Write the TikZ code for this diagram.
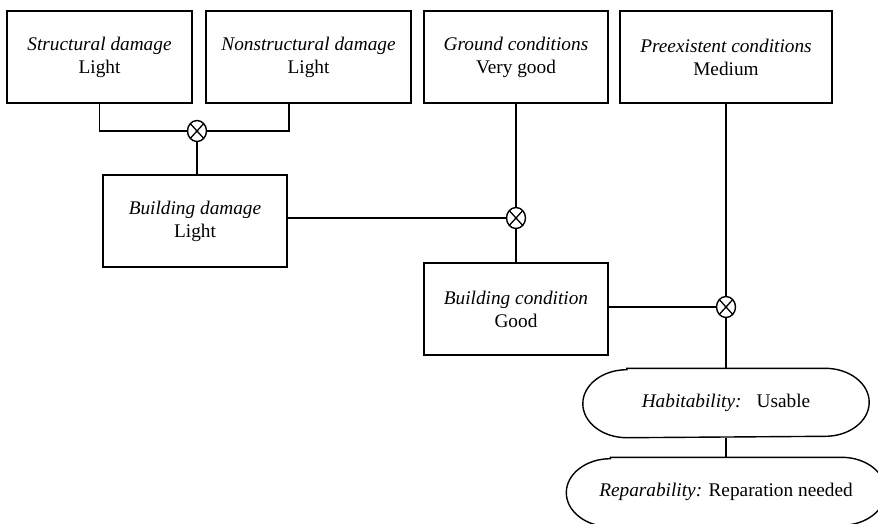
\documentclass[tikz,border=0pt]{standalone}
\usepackage{fontspec}
\setmainfont{Liberation Serif}
\usetikzlibrary{shapes.geometric}
\begin{document}
\begin{tikzpicture}[x=1pt,y=-1pt,
  line width=1.4pt,
  every node/.style={font=\fontsize{19.3}{23}\selectfont},
  factor/.style={draw, align=center, inner sep=0pt, minimum height=92pt},
  outcome/.style={align=center, inner sep=0pt, minimum height=68pt},
  combine/.style={draw, ellipse, fill=white, inner sep=0pt,
                  minimum width=19pt, minimum height=21pt,
                  path picture={
                    \draw[line width=1.3pt]
                      (path picture bounding box.north west) -- (path picture bounding box.south east)
                      (path picture bounding box.north east) -- (path picture bounding box.south west);}},
  link/.style={line width=1.4pt}]
\useasboundingbox (0,0) rectangle (878,523);

% outline of an outcome node: straight top and bottom, half-ellipse ends
\def\outline#1{%
  \draw ([xshift=44pt]#1.north west) -- ([xshift=-44pt]#1.north east)
    arc[start angle=90, end angle=-90, x radius=44pt, y radius=34pt]
    -- ([xshift=44pt]#1.south west)
    arc[start angle=270, end angle=90, x radius=44pt, y radius=34pt]
    -- cycle;}

% input factors
\node[factor, minimum width=185pt] (sd) at (99.5,57) {\textit{Structural damage}\\Light};
\node[factor, minimum width=205pt] (nd) at (308.5,57) {\textit{Nonstructural damage}\\Light};
\node[factor, minimum width=184pt] (gc) at (516,57) {\textit{Ground conditions}\\Very good};
\node[factor, minimum width=212pt] (pc) at (726,57) {\textit{Preexistent conditions}\\Medium};

% intermediate results
\node[factor, minimum width=184pt] (bd) at (195,221) {\textit{Building damage}\\Light};
\node[factor, minimum width=184pt] (bc) at (516,309) {\textit{Building condition}\\Good};

% final assessments
\node[outcome, minimum width=285pt] (hab) at (726,403) {\textit{Habitability:}\hspace{0.45em} Usable};
\node[outcome, minimum width=318pt] (rep) at (726,492) {\textit{Reparability:} Reparation needed};
\outline{hab}
\outline{rep}

% combination operators
\node[combine] (o1) at (197,131) {};
\node[combine] (o2) at (516,218) {};
\node[combine] (o3) at (726,307) {};

% connectors
\draw[link] (sd.south) |- (o1.west);
\draw[link] ([xshift=-19.5pt]nd.south) |- (o1.east);
\draw[link] (o1.south) -- (o1.south |- bd.north);
\draw[link] (o2.west -| bd.east) -- (o2.west);
\draw[link] (gc.south) -- (o2.north);
\draw[link] (o2.south) -- (o2.south |- bc.north);
\draw[link] (o3.west -| bc.east) -- (o3.west);
\draw[link] (pc.south) -- (o3.north);
\draw[link] (o3.south) -- (o3.south |- hab.north);
\draw[link] (hab.south) -- (hab.south |- rep.north);
\end{tikzpicture}
\end{document}
